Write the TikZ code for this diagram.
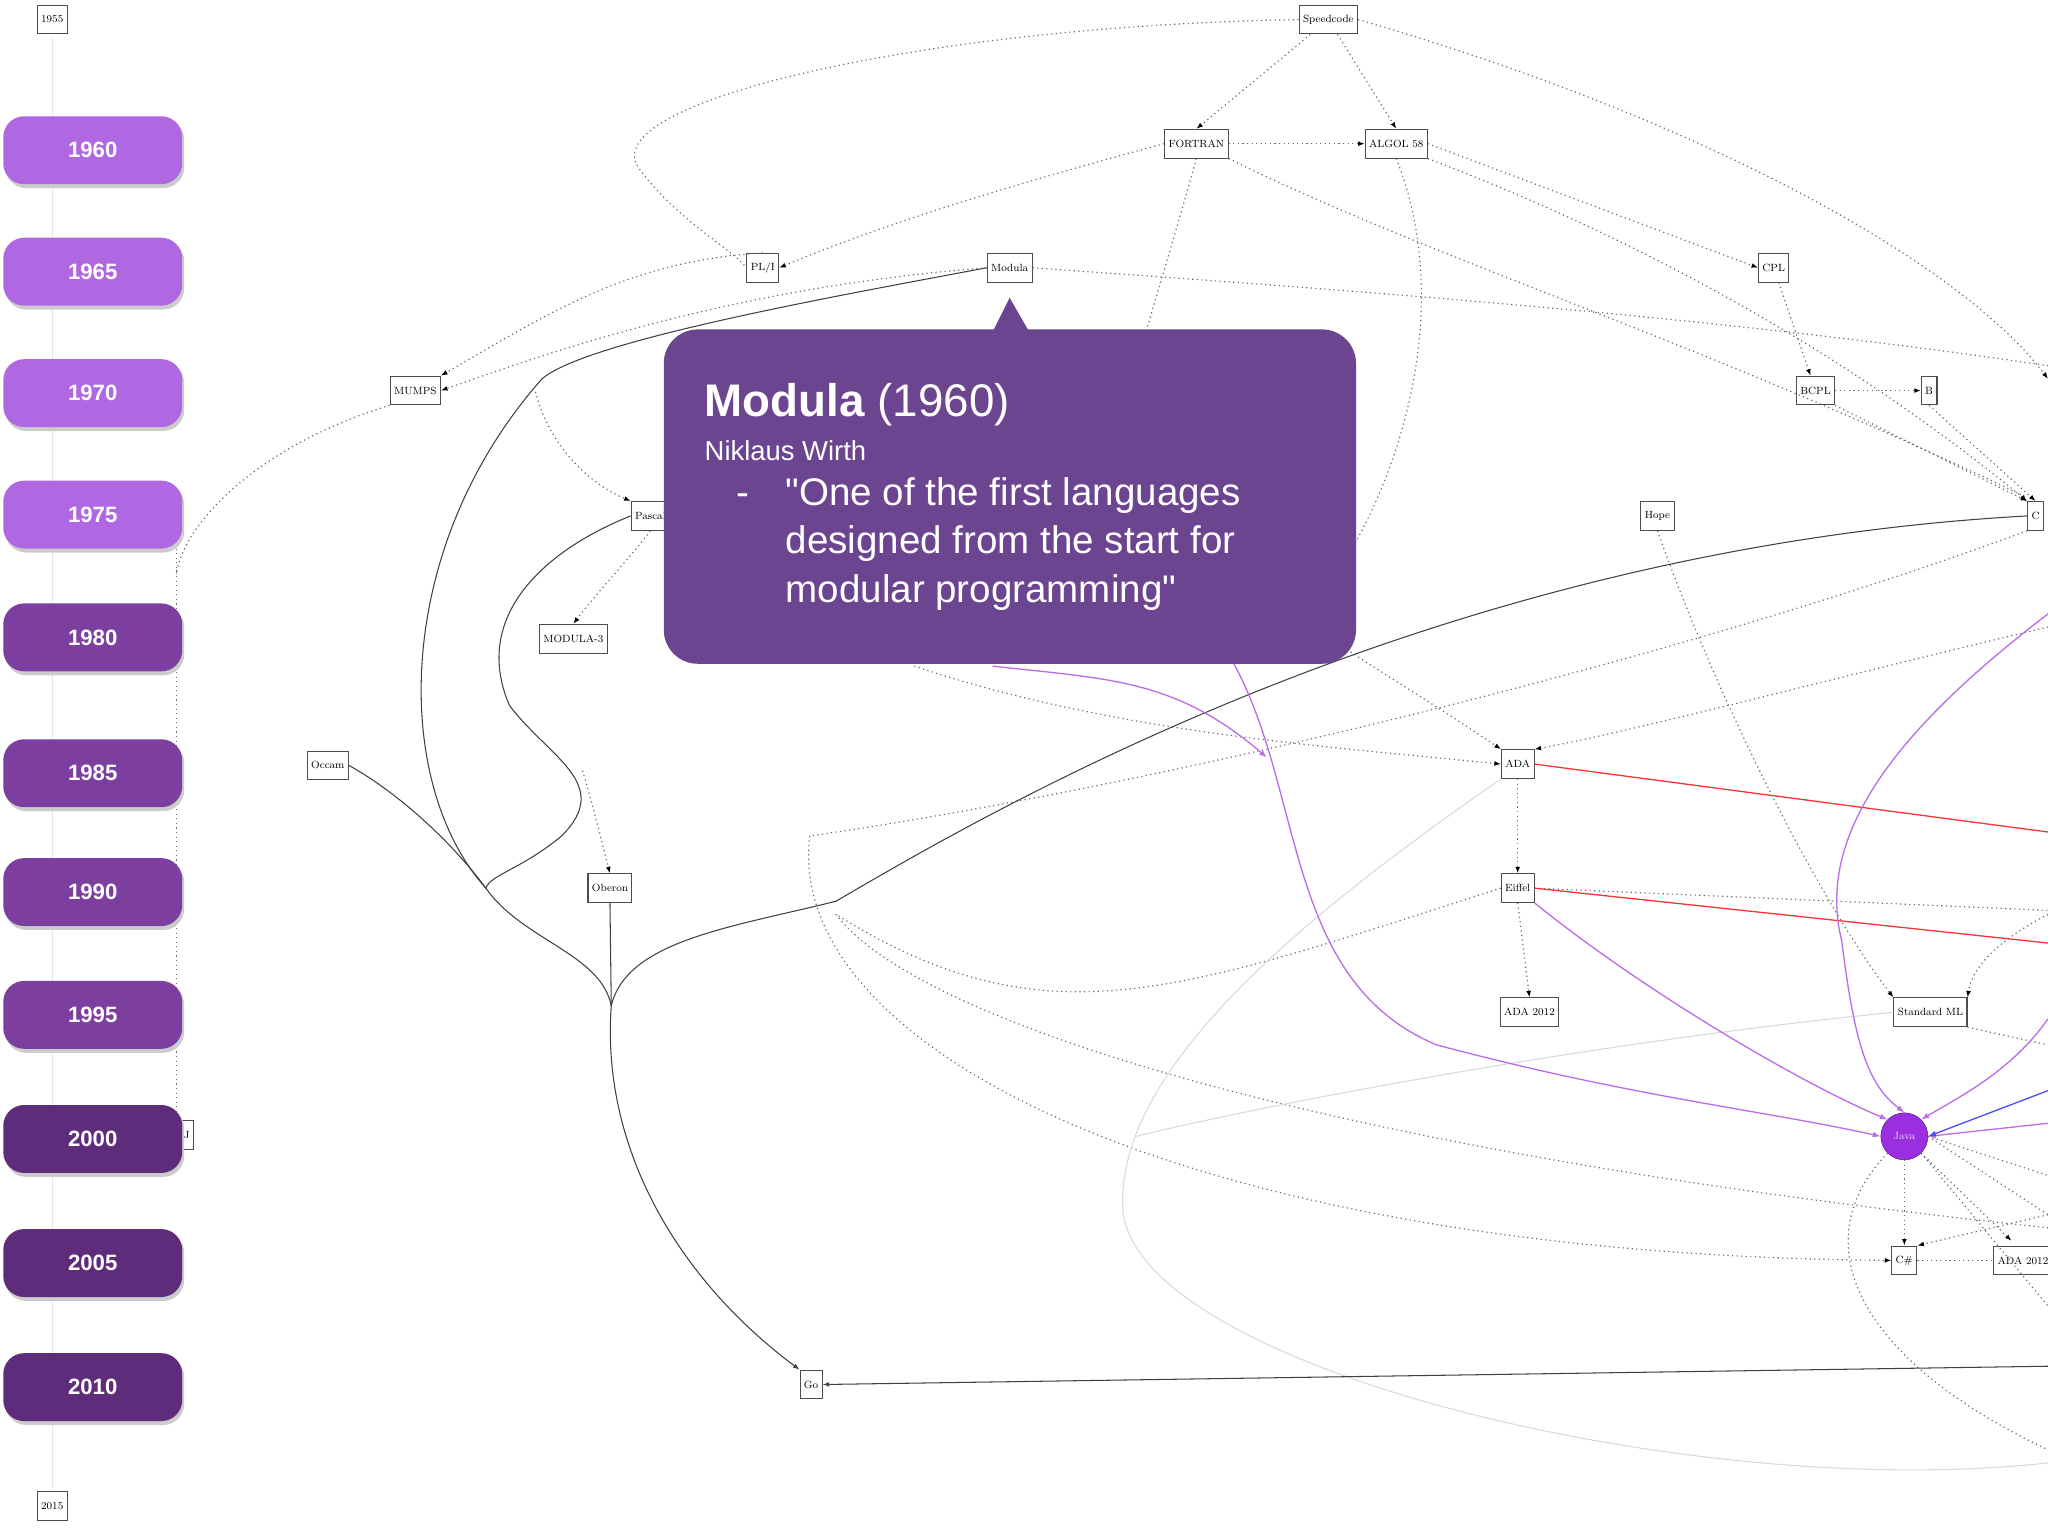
\documentclass[tikz,border=0pt]{standalone}
\usepackage{fontspec}
\setsansfont{Liberation Sans}
\newfontfamily\qf{Liberation Sans}
\usetikzlibrary{arrows.meta}
\definecolor{pA}{HTML}{B068E2}
\definecolor{pB}{HTML}{7D3F9F}
\definecolor{pC}{HTML}{5F2C7B}
\definecolor{callout}{HTML}{6B458F}
\definecolor{jv}{HTML}{9B2EE0}
\tikzset{
 pill/.style={rounded corners=16pt,minimum width=137pt,minimum height=52pt,text=white,font=\sffamily\bfseries\fontsize{17}{20}\selectfont},
 lang/.style={draw=black!70,fill=white,font=\fontsize{8}{9}\selectfont,inner sep=3pt,minimum height=22pt,line width=0.8pt},
 dot/.style={black!60,dash pattern=on 0.9pt off 2.6pt,line width=0.9pt},
 darr/.style={dot,-{Latex[length=5pt,black]}},
 solid/.style={black!75,line width=0.8pt},
 vio/.style={color=jv!70,line width=1pt,-{Latex[length=6pt]}},
 red/.style={red!80,line width=1pt},
 faint/.style={gray!30,line width=0.8pt}
}
\begin{document}
\begin{tikzpicture}[x=1pt,y=-1pt]
\useasboundingbox (0,0) rectangle (1568,1176);
\fill[white] (0,0) rectangle (1568,1176);
\draw[gray!20] (40,28) -- (40,1140);
\draw[dot] (135,420) -- (135,860);
\node[lang] (y55) at (40,15) {1955};
\node[lang] (y15) at (40,1153) {2015};
\node[lang] (spd) at (1017,15) {Speedcode};
\node[lang] (ftn) at (916,110) {FORTRAN};
\node[lang] (alg) at (1069,110) {ALGOL 58};
\node[lang] (pli) at (584,205) {PL/I};
\node[lang] (mod) at (773,205) {Modula};
\node[lang] (cpl) at (1358,205) {CPL};
\node[lang] (mum) at (318,299) {MUMPS};
\node[lang] (bcp) at (1390,299) {BCPL};
\node[lang] (bb) at (1477,299) {B};
\node[lang,anchor=west] (cc) at (1552,395) {C};
\node[lang] (hope) at (1269,395) {Hope};
\node[lang] (pas) at (498,395) {Pascal};
\node[lang] (m3) at (439,489) {MODULA-3};
\node[lang] (unk) at (251,586) {Occam};
\node[lang] (obe) at (467,680) {Oberon};
\node[lang] (ada) at (1162,585) {ADA};
\node[lang] (eif) at (1162,680) {Eiffel};
\node[lang] (a12) at (1171,775) {ADA 2012};
\node[lang] (sml) at (1478,775) {Standard ML};
\node[circle,draw=jv!60!black,fill=jv,text=white!80!jv,font=\fontsize{8}{9}\selectfont,minimum size=36pt,inner sep=0pt] (java) at (1458,870) {Java};
\node[lang] (cs) at (1458,965) {C\#};
\node[lang,anchor=west] (a2x) at (1526,965) {ADA 2012};
\node[lang] (go) at (621,1060) {Go};
\node[lang] (sm) at (143,869) {J};
% dotted edges
\draw[dot] (spd.west) .. controls (700,20) and (450,80) .. (490,130) .. controls (520,170) and (560,190) .. (pli.west);
\draw[darr] (spd) -- (ftn.north);
\draw[darr] (spd) -- (alg.north);
\draw[darr] (ftn) -- (alg);
\draw[darr] (ftn.west) .. controls (780,140) and (680,170) .. (pli.east);
\draw[darr] (pli.north) .. controls (480,200) and (420,240) .. (mum.north east);
\draw[darr] (mod.west) .. controls (560,220) and (420,270) .. (mum.east);
\draw[dot] (mum.south west) .. controls (200,340) and (140,400) .. (135,440);
\draw[darr] (spd.east) .. controls (1300,90) and (1500,200) .. (1568,290);
\draw[darr] (alg.east) -- (cpl.west);
\draw[darr] (cpl) -- (bcp);
\draw[darr] (bcp) -- (bb);
\draw[darr] (bcp.south east) -- (cc.north west);
\draw[darr] (bb.south) -- (cc.north);
\draw[darr] (alg.south east) .. controls (1300,200) and (1450,300) .. (cc.north west);
\draw[dot] (ftn.south east) .. controls (1100,200) and (1300,260) .. (1550,380);
\draw[dot] (mod.east) .. controls (1000,220) and (1300,240) .. (1568,280);
\draw[dot] (ftn.south) .. controls (880,250) and (860,300) .. (850,380);
\draw[darr] (alg.south) .. controls (1120,250) and (1060,400) .. (1000,470);
\draw[darr] (410,300) .. controls (420,340) and (450,370) .. (pas.north west);
\draw[darr] (pas.south) .. controls (480,430) and (460,450) .. (m3.north);
\draw[darr] (446,590) .. controls (455,620) and (462,650) .. (obe.north);
\draw[darr] (hope.south) .. controls (1320,550) and (1400,700) .. (sml.north west);
\draw[darr] (ada.south) -- (eif.north);
\draw[darr] (eif.south) -- (a12.north);
\draw[darr] (700,510) .. controls (850,560) and (1000,570) .. (ada.west);
\draw[darr] (1568,480) .. controls (1400,520) and (1250,560) .. (ada.north east);
\draw[darr] (900,410) .. controls (1000,480) and (1100,540) .. (ada.north west);
\draw[dot] (eif.east) -- (1568,697);
\draw[dot] (eif.west) .. controls (900,760) and (800,800) .. (640,700);
\draw[darr] (1568,700) .. controls (1530,720) and (1510,740) .. (sml.north east);
\draw[dot] (sml.south east) -- (1568,800);
\draw[dot] (640,700) .. controls (700,780) and (1000,880) .. (1568,940);
\draw[darr] (java.south) -- (cs.north);
\draw[darr] (java.south east) -- (1540,950);
\draw[dot] (java.east) -- (1568,900);
\draw[dot] (java.east) -- (1568,930);
\draw[dot] (java.south east) -- (1568,1000);
\draw[darr] (1568,930) -- (cs.north east);
\draw[darr] (620,640) .. controls (600,800) and (900,960) .. (cs.west);
\draw[dot] (java.south west) .. controls (1380,950) and (1420,1040) .. (1568,1110);
\draw[dot] (cs.east) -- (a2x.west);
\draw[dot] (cc.south west) .. controls (1300,500) and (900,600) .. (620,640);
\draw[faint] (sml.west) .. controls (1200,800) and (950,850) .. (870,870);
\draw[faint] (ada.south west) .. controls (1000,700) and (850,820) .. (860,930) .. controls (880,1050) and (1300,1150) .. (1568,1120);
% solid edges
\draw[solid] (mod.west) .. controls (650,225) and (450,260) .. (415,290) .. controls (300,420) and (300,600) .. (372,680);
\draw[solid] (pas.west) .. controls (420,420) and (360,470) .. (390,540) .. controls (420,580) and (470,600) .. (430,640) .. controls (400,665) and (375,670) .. (372,680);
\draw[solid] (unk.east) .. controls (310,610) and (350,650) .. (372,680) .. controls (400,720) and (460,730) .. (468,770);
\draw[solid] (obe.south) -- (468,770);
\draw[solid,-{Latex[length=5pt]}] (468,770) .. controls (460,880) and (520,980) .. (go.north west);
\draw[solid] (468,770) .. controls (480,720) and (560,710) .. (640,690) .. controls (760,620) and (1100,420) .. (cc.west);
\draw[solid,{Latex[length=5pt]}-] (go.east) -- (1568,1046);
\draw[red] (ada.east) -- (1568,637);
\draw[red] (eif.east) -- (1568,722);
\draw[vio] (eif.south east) .. controls (1260,760) and (1380,830) .. (java.north west);
\draw[vio] (940,500) .. controls (1000,600) and (980,750) .. (1100,800) .. controls (1250,840) and (1350,850) .. (java.west);
\draw[vio] (1568,470) .. controls (1450,560) and (1390,640) .. (1410,720) .. controls (1420,800) and (1430,830) .. (java.north);
\draw[vio] (1568,780) .. controls (1540,820) and (1500,840) .. (java.north east);
\draw[vio] (1568,860) -- (java.east);
\draw[blue!70,line width=1pt,-{Latex[length=6pt]}] (1568,835) -- (java.east);
\draw[vio] (760,510) .. controls (850,520) and (900,520) .. (970,580);
% year pills
\foreach \y/\t/\c in {115/1960/pA,208/1965/pA,301/1970/pA,394/1975/pA,488/1980/pB,592/1985/pB,683/1990/pB,777/1995/pB,872/2000/pC,967/2005/pC,1062/2010/pC}{
  \fill[black!20] (4,\y-24) [rounded corners=16pt] rectangle (141,\y+29);
  \node[pill,fill=\c] (p\t) at (71,\y) {\t};
}
% callout
\fill[callout] (760,254) -- (773,228) -- (788,254) -- cycle;
\node[fill=callout,rounded corners=26pt,minimum width=530pt,minimum height=256pt,anchor=north west] (box) at (508,252) {};
\node[anchor=north west,text=white,font=\sffamily\fontsize{35}{40}\selectfont,align=left] (tt) at (536,290) {\textbf{Modula} (1960)};
\node[anchor=north west,text=white,font=\sffamily\fontsize{21}{24}\selectfont] (au) at (536,334) {Niklaus Wirth};
\node[anchor=north west,text=white,font=\qf\fontsize{29.5}{37}\selectfont,align=left] (qt) at (598,362) {\llap{-\hspace{28pt}}"One of the first languages\\designed from the start for\\modular programming"};
\end{tikzpicture}
\end{document}
